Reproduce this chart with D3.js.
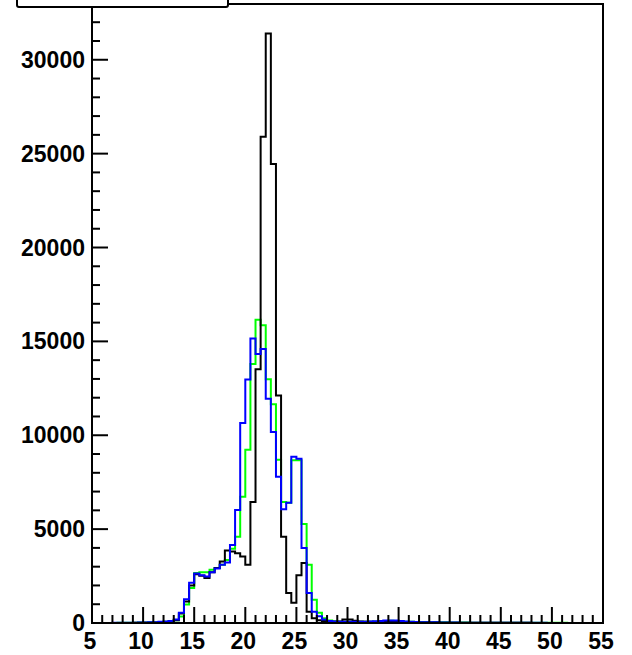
<!DOCTYPE html>
<html>
<head>
<meta charset="utf-8">
<script src="https://cdn.jsdelivr.net/npm/d3@7/dist/d3.min.js"></script>
<style>
  html, body { margin: 0; padding: 0; background: #ffffff; }
  svg { display: block; }
  text { font-family: "Liberation Sans", Arial, Helvetica, sans-serif; font-weight: bold; }
</style>
</head>
<body>
<svg id="chart" width="632" height="655"></svg>
<script>
// ---- data ----
const binStart = 5;
const binWidth = 0.5;
const xTickLabels = [5, 10, 15, 20, 25, 30, 35, 40, 45, 50, 55];
const yTickLabels = [0, 5000, 10000, 15000, 20000, 25000, 30000];

const seriesBlack = [
  2, 2, 2, 3, 3, 4, 5, 6, 8, 10, 12, 15, 20, 30,
  50, 80, 150, 500, 1150, 2000, 2600, 2520, 2400, 2700,
  2930, 3280, 3860, 3810, 3720, 3540, 3100, 6440, 13520, 25900,
  31400, 24450, 12115, 4600, 1600, 1080, 2550, 3200, 600, 250,
  150, 100, 80, 60, 80, 185, 185, 120, 80, 60,
  60, 50, 60, 70, 80, 70, 50, 40, 40, 35,
  30, 30, 25, 25, 20, 20, 20, 15, 15, 15,
  15, 12, 12, 12, 10, 10, 10, 10, 8, 8,
  8, 8, 6, 6, 6, 6, 5, 5, 5, 5,
  4, 4, 4, 4, 4, 3, 3, 3
];
const seriesGreen = [
  5, 5, 5, 5, 6, 8, 10, 12, 18, 22, 28, 35, 40, 55,
  70, 100, 150, 350, 980, 1870, 2660, 2700, 2700, 2840,
  2930, 3100, 3350, 3950, 4600, 6720, 9230, 13800, 16150, 15860,
  12980, 11650, 8700, 6450, 6400, 8670, 8670, 5275, 3100, 1245,
  540, 250, 130, 90, 70, 70, 60, 60, 60, 60,
  70, 80, 100, 110, 120, 110, 90, 70, 60, 55,
  50, 50, 45, 50, 40, 35, 30, 30, 25, 25,
  20, 20, 20, 18, 16, 15, 15, 14, 12, 12,
  10, 10, 10, 9, 8, 8, 8, 7, 7, 6,
  6, 6, 5, 5, 5, 5, 4, 4
];
const seriesBlue = [
  5, 5, 5, 5, 8, 8, 10, 12, 20, 25, 30, 35, 45, 60,
  80, 110, 180, 550, 1260, 2150, 2640, 2540, 2480, 2700,
  2900, 3100, 3220, 4160, 6020, 10650, 12970, 15150, 14330, 14590,
  11940, 10170, 7785, 6055, 6400, 8850, 8750, 3990, 1600, 600,
  360, 190, 100, 80, 70, 65, 60, 60, 65, 70,
  80, 90, 110, 130, 135, 130, 110, 80, 60, 50,
  45, 40, 40, 35, 30, 30, 25, 25, 20, 20,
  18, 16, 15, 14, 12, 12, 10, 10, 10, 9,
  8, 8, 8, 7, 7, 6, 6, 6, 5, 5,
  5, 5, 4, 4, 4, 4, 4, 3
];

const series = [
  { name: "green", values: seriesGreen, color: "#00ff00" },
  { name: "black", values: seriesBlack, color: "#000000" },
  { name: "blue",  values: seriesBlue,  color: "#0000ff" }
];

// ---- layout ----
const W = 632, H = 655;
const padL = 92, padR = 603, padT = 4, padB = 623;
const yMax = 1.05 * d3.max(seriesBlack);

const svg = d3.select("#chart");
svg.append("rect").attr("width", W).attr("height", H).attr("fill", "#ffffff");

const x = d3.scaleLinear().domain([5, 55]).range([padL, padR]);
const y = d3.scaleLinear().domain([0, yMax]).range([padB, padT]);

const nBins = seriesBlack.length;
const edges = d3.range(nBins + 1).map(i => binStart + i * binWidth);

// ---- histograms (step outlines) ----
function stepPath(vals) {
  const pts = [];
  for (let i = 0; i < vals.length; i++) {
    pts.push([x(edges[i]), y(vals[i])]);
    pts.push([x(edges[i + 1]), y(vals[i])]);
  }
  return d3.line()(pts);
}

svg.append("clipPath").attr("id", "clip")
  .append("rect").attr("x", padL).attr("y", padT).attr("width", padR - padL).attr("height", padB - padT);

const plot = svg.append("g");
series.forEach(s => {
  plot.append("path")
    .attr("d", stepPath(s.values))
    .attr("fill", "none")
    .attr("stroke", s.color)
    .attr("stroke-width", 2)
    .attr("stroke-linejoin", "miter")
    .attr("clip-path", "url(#clip)");
});

// ---- frame ----
svg.append("rect")
  .attr("x", padL).attr("y", padT)
  .attr("width", padR - padL).attr("height", padB - padT)
  .attr("fill", "none").attr("stroke", "#000").attr("stroke-width", 2);

// ---- x axis ticks (inside, upward) ----
const xMinor = d3.range(5, 56, 1);
const gx = svg.append("g");
gx.selectAll("line").data(xMinor).enter().append("line")
  .attr("x1", d => x(d)).attr("x2", d => x(d))
  .attr("y1", padB).attr("y2", d => padB - (d % 5 === 0 ? 16 : 8))
  .attr("stroke", "#000").attr("stroke-width", 2);
gx.selectAll("text").data(xTickLabels).enter().append("text")
  .attr("x", d => x(d) - 2).attr("y", 649)
  .attr("text-anchor", "middle")
  .attr("font-size", 23)
  .text(d => d);

// ---- y axis ticks (inside, rightward) ----
const yMinor = d3.range(0, yMax, 1000);
const gy = svg.append("g");
gy.selectAll("line").data(yMinor).enter().append("line")
  .attr("x1", padL).attr("x2", d => padL + (d % 5000 === 0 ? 16 : 8))
  .attr("y1", d => y(d)).attr("y2", d => y(d))
  .attr("stroke", "#000").attr("stroke-width", 2);
gy.selectAll("text").data(yTickLabels).enter().append("text")
  .attr("x", 85).attr("y", d => y(d) + 8)
  .attr("text-anchor", "end")
  .attr("font-size", 23)
  .text(d => d);

// ---- title box (clipped at top) ----
svg.append("rect")
  .attr("x", 17).attr("y", -20)
  .attr("width", 211).attr("height", 27)
  .attr("rx", 2)
  .attr("fill", "#ffffff").attr("stroke", "#000").attr("stroke-width", 2);
</script>
</body>
</html>
